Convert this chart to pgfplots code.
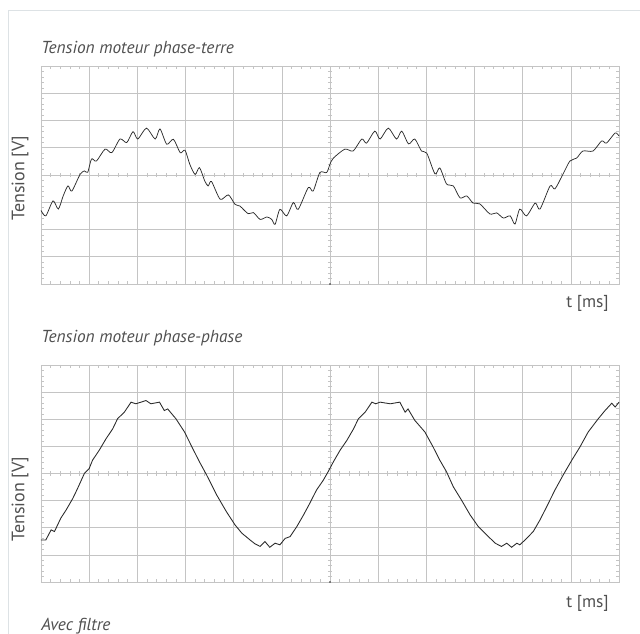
\documentclass[border=0pt]{standalone}
\usepackage{fontspec}
\setmainfont{PT Sans}
\usepackage{pgfplots}
\pgfplotsset{compat=1.18}
\definecolor{gridc}{HTML}{C4C4C4}
\definecolor{txt}{HTML}{505050}
\definecolor{framec}{HTML}{DDE2E5}
\definecolor{trace}{HTML}{2A2A2A}

\pgfplotsset{oscillo/.style={
  scale only axis, width=433.5pt,
  xmin=0, xmax=12, ymin=-4, ymax=4,
  xtick={0,...,12}, ytick={-4,...,4},
  minor x tick num=4, minor y tick num=4,
  xticklabels={}, yticklabels={},
  grid=major, major grid style={gridc, line width=0.5pt},
  axis line style={gridc, line width=0.6pt},
  major tick length=0pt, minor tick length=2.6pt,
  tick style={gridc, line width=0.45pt},
  tick align=inside, clip=false,
}}
% centre cross ticks, in data units
\newcommand\crossticks{%
\pgfplotsinvokeforeach{1,...,59}{\draw[gridc, line width=0.45pt] (axis cs:##1/5,-0.075) -- (axis cs:##1/5,0.075);}
\pgfplotsinvokeforeach{1,...,39}{\draw[gridc, line width=0.45pt] (axis cs:5.955,##1/5-4) -- (axis cs:6.045,##1/5-4);}
\fill[trace] (axis cs:6,-4) circle (0.7pt);}

\begin{document}
\begin{tikzpicture}
\path[use as bounding box] (0,0) rectangle (480pt,475.5pt);
\draw[framec, line width=0.75pt] (6pt,0) -- (6pt,467.25pt) -- (480pt,467.25pt);

% phase-terre
\begin{axis}[oscillo, height=163.5pt, at={(30.75pt,262.5pt)}, anchor=south west]
\crossticks
\addplot[trace, line width=0.55pt, smooth, tension=0.45] coordinates {
(0.00,-1.30) (0.10,-1.50) (0.25,-0.95) (0.36,-1.25) (0.46,-0.77) (0.56,-0.40)
(0.64,-0.59) (0.81,0.02) (0.90,0.15) (0.97,0.10) (1.05,0.59) (1.15,0.51)
(1.33,0.95) (1.47,0.82) (1.64,1.32) (1.78,1.19) (1.91,1.59) (2.01,1.32)
(2.19,1.72) (2.37,1.32) (2.47,1.69) (2.61,1.13) (2.75,1.31) (2.89,0.82)
(2.99,0.91) (3.09,0.39) (3.20,0.02) (3.29,0.27) (3.40,-0.22) (3.47,-0.40)
(3.54,-0.24) (3.72,-0.89) (3.89,-0.73) (4.03,-1.08) (4.13,-1.14) (4.30,-1.42)
(4.41,-1.38) (4.55,-1.63) (4.69,-1.54) (4.79,-1.63) (4.86,-1.81) (4.96,-1.26)
(5.10,-1.50) (5.24,-1.01) (5.34,-1.26) (5.55,-0.46) (5.65,-0.59) (5.79,0.09)
(5.93,0.09) (6.00,0.40) (6.07,0.62) (6.31,0.95) (6.48,0.88) (6.66,1.32)
(6.76,1.17) (6.93,1.61) (7.04,1.32) (7.21,1.72) (7.38,1.32) (7.49,1.61)
(7.63,1.14) (7.76,1.32) (7.90,0.88) (8.01,0.80) (8.18,0.04) (8.28,0.26)
(8.42,-0.33) (8.56,-0.40) (8.70,-0.84) (8.84,-0.77) (8.97,-1.03) (9.11,-1.06)
(9.32,-1.43) (9.46,-1.39) (9.60,-1.58) (9.74,-1.50) (9.84,-1.80) (9.94,-1.25)
(10.08,-1.50) (10.26,-1.03) (10.36,-1.25) (10.57,-0.40) (10.67,-0.51) (10.84,0.04)
(10.98,0.51) (11.12,0.62) (11.25,0.88) (11.46,0.88) (11.64,1.25) (11.74,1.17)
(11.92,1.54) (12.00,1.43)
};
\end{axis}

% phase-phase
\begin{axis}[oscillo, height=162.75pt, at={(30.75pt,39pt)}, anchor=south west]
\crossticks
\addplot[trace, line width=0.65pt] coordinates {
(0.00,-2.45) (0.10,-2.45) (0.21,-2.08) (0.28,-2.14) (0.41,-1.65) (0.52,-1.35)
(0.66,-0.92) (0.76,-0.55) (0.90,0.00) (1.00,0.18) (1.07,0.49) (1.21,0.86)
(1.35,1.28) (1.49,1.65) (1.59,2.02) (1.73,2.26) (1.87,2.63) (1.97,2.57)
(2.18,2.69) (2.28,2.57) (2.46,2.63) (2.56,2.32) (2.63,2.38) (2.80,2.02)
(2.98,1.53) (3.15,0.92) (3.29,0.43) (3.44,-0.06) (3.65,-0.80) (3.85,-1.41)
(4.03,-1.90) (4.17,-2.20) (4.34,-2.45) (4.44,-2.59) (4.55,-2.69) (4.65,-2.51)
(4.75,-2.72) (4.86,-2.57) (4.96,-2.63) (5.07,-2.39) (5.17,-2.33) (5.31,-1.96)
(5.45,-1.53) (5.58,-1.10) (5.72,-0.61) (5.86,-0.25) (5.96,0.06) (6.07,0.43)
(6.21,0.86) (6.35,1.22) (6.49,1.65) (6.59,2.02) (6.73,2.26) (6.87,2.63)
(6.95,2.57) (7.04,2.63) (7.25,2.57) (7.45,2.63) (7.56,2.26) (7.62,2.38)
(7.76,1.96) (7.97,1.53) (8.14,0.98) (8.28,0.49) (8.42,0.06) (8.56,-0.49)
(8.73,-0.98) (8.91,-1.53) (9.08,-1.96) (9.25,-2.26) (9.43,-2.57) (9.56,-2.69)
(9.67,-2.57) (9.77,-2.72) (9.88,-2.57) (9.94,-2.63) (10.05,-2.45) (10.22,-2.14)
(10.36,-1.71) (10.50,-1.22) (10.67,-0.61) (10.84,-0.06) (11.02,0.49) (11.19,0.98)
(11.36,1.53) (11.57,2.02) (11.71,2.32) (11.85,2.59) (11.92,2.45) (12.00,2.63)
};
\end{axis}

\begin{scope}[x=0.75pt, y=0.75pt, every node/.style={inner sep=0pt, text=txt}]
\node[anchor=base west, font=\itshape\fontsize{13}{15}\selectfont] at (41,580) {Tension moteur phase-terre};
\node[anchor=base west, font=\itshape\fontsize{13}{15}\selectfont] at (41,291) {Tension moteur phase-phase};
\node[anchor=base west, font=\itshape\fontsize{13}{15}\selectfont] at (41,3) {Avec filtre};
\node[rotate=90, font=\fontsize{13.5}{15}\selectfont] at (20,456) {Tension [V]};
\node[rotate=90, font=\fontsize{13.5}{15}\selectfont] at (20,135) {Tension [V]};
\node[anchor=base east, font=\fontsize{13}{15}\selectfont] at (609,326) {t [ms]};
\node[anchor=base east, font=\fontsize{13}{15}\selectfont] at (609,26) {t [ms]};
\end{scope}
\end{tikzpicture}
\end{document}
